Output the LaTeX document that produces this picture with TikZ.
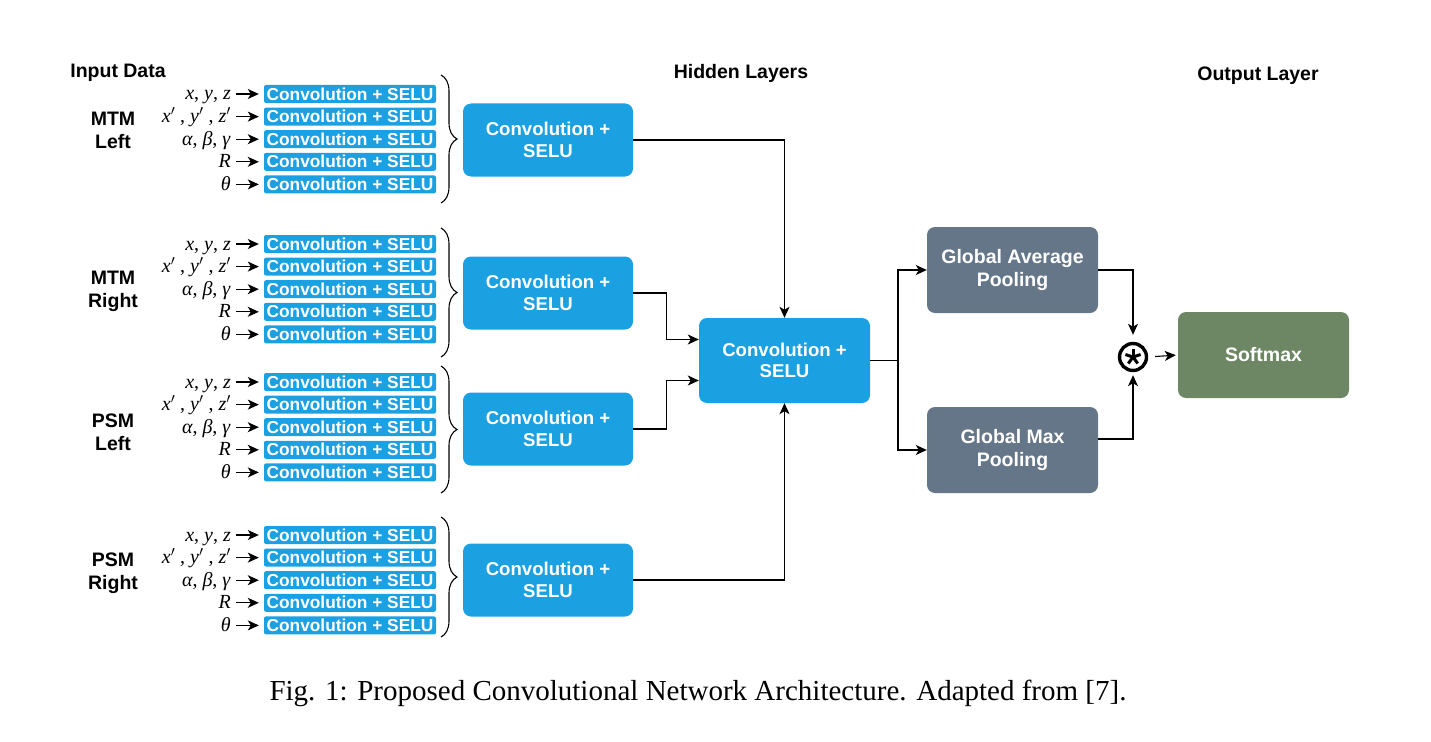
\documentclass[tikz,border=0pt]{standalone}
\usepackage{fontspec}
\setmainfont{Liberation Serif}
\newfontfamily\lsans{Liberation Sans}
\usetikzlibrary{arrows.meta,decorations.pathreplacing,calc}
\definecolor{cblue}{HTML}{1BA1E2}
\definecolor{cgray}{HTML}{647687}
\definecolor{cgreen}{HTML}{6D8764}
\tikzset{
  smallbox/.style={fill=cblue,rounded corners=2pt,minimum width=172pt,minimum height=18pt,inner sep=0pt,
    text=white,font=\lsans\bfseries\fontsize{17.3}{18}\selectfont},
  bigbox/.style={fill=cblue,rounded corners=8pt,minimum width=170pt,minimum height=73pt,inner sep=0pt,align=center,
    text=white,font=\lsans\bfseries\fontsize{18.6}{21.5}\selectfont},
  poolbox/.style={fill=cgray,rounded corners=8pt,minimum width=171pt,minimum height=86pt,inner sep=0pt,align=center,
    text=white,font=\lsans\bfseries\fontsize{19.5}{23}\selectfont},
  heading/.style={font=\lsans\bfseries\fontsize{19.5}{23}\selectfont,align=center,inner sep=0pt},
  varlabel/.style={anchor=base east,inner sep=0pt,font=\fontsize{20}{22}\selectfont},
  arr/.style={line width=1.1pt,-{Stealth[length=11pt,width=10pt,inset=3pt]}},
  line/.style={line width=1.1pt},
  bracestyle/.style={line width=1.1pt,decorate,decoration={brace,amplitude=16pt}},
}
\begin{document}
\begin{tikzpicture}[x=1pt,y=-1pt]
\useasboundingbox (0,0) rectangle (1431,741);
% headings
\node[heading] (hin) at (118,73) {Input Data};
\node[heading] (hhid) at (741,73) {Hidden Layers};
\node[heading] (hout) at (1258,76) {Output Layer};
% group labels
\node[heading] (g1) at (113,130) {MTM\\Left};
\node[heading] (g2) at (113,291) {MTM\\Right};
\node[heading] (g3) at (113,432) {PSM\\Left};
\node[heading] (g4) at (113,573) {PSM\\Right};
% input rows
\foreach \g/\ys/\bt/\bb in {1/94/75/203, 2/244/228/357, 3/382/366/493, 4/535/517/637}{
  \foreach \r/\lab in {0/{\textit{x}, \textit{y}, \textit{z}},
                       1/{\textit{x}$'$ , \textit{y}$'$ , \textit{z}$'$},
                       2/{\textit{α}, \textit{β}, \textit{γ}},
                       3/{\textit{R}},
                       4/{\textit{θ}}}{
    \pgfmathsetmacro{\yy}{\ys+22.6*\r}
    \node[smallbox] (s\g\r) at (350,\yy) {Convolution + SELU};
    \node[varlabel] (v\g\r) at (231,\yy+6) {\lab};
    \draw[arr,shorten <=5pt,shorten >=5pt] (v\g\r.east |- s\g\r.west) -- (s\g\r.west);
  }
  \draw[bracestyle] (441,\bt) -- (441,\bb);
}
% hidden blocks
\node[bigbox] (b1) at (548,140) {Convolution +\\SELU};
\node[bigbox] (b2) at (548,293) {Convolution +\\SELU};
\node[bigbox] (b3) at (548,429) {Convolution +\\SELU};
\node[bigbox] (b4) at (548,580) {Convolution +\\SELU};
\node[bigbox,minimum width=171pt,minimum height=85pt] (cen) at (784.5,360.5) {Convolution +\\SELU};
\draw[arr] (b1.east) -| (cen.north);
\draw[arr] (b2.east) -- ++(33,0) |- ([yshift=21pt]cen.west);
\draw[arr] (b3.east) -- ++(33,0) |- ([yshift=-20pt]cen.west);
\draw[arr] (b4.east) -| (cen.south);
% pooling
\node[poolbox] (gap) at (1012.5,270) {Global Average\\Pooling};
\node[poolbox] (gmp) at (1012.5,450) {Global Max\\Pooling};
\coordinate (split) at (898,360.5);
\draw[line] (cen.east) -- (split);
\draw[arr] (split) |- (gap.west);
\draw[arr] (split) |- (gmp.west);
% combine
\node[circle,draw,line width=3.4pt,minimum size=27pt,inner sep=0pt] (circ) at (1133,357) {};
\foreach \a in {270,342,54,126,198}
  \draw[line width=3pt] (circ.center) -- ++(\a:8);
\node[poolbox,fill=cgreen] (soft) at (1263.5,355) {Softmax};
\draw[arr,shorten >=7pt] (gap.east) -| (circ.north);
\draw[arr,shorten >=3pt] ([yshift=11pt]gmp.east) -| (circ.south);
\draw[arr,shorten <=7pt,shorten >=2pt] (circ.east) -- (soft.west);
% caption
\node[inner sep=0pt,font=\fontsize{29}{32}\selectfont] (cap) at (698,693)
  {Fig. 1: Proposed Convolutional Network Architecture. Adapted from [7].};
\end{tikzpicture}
\end{document}
